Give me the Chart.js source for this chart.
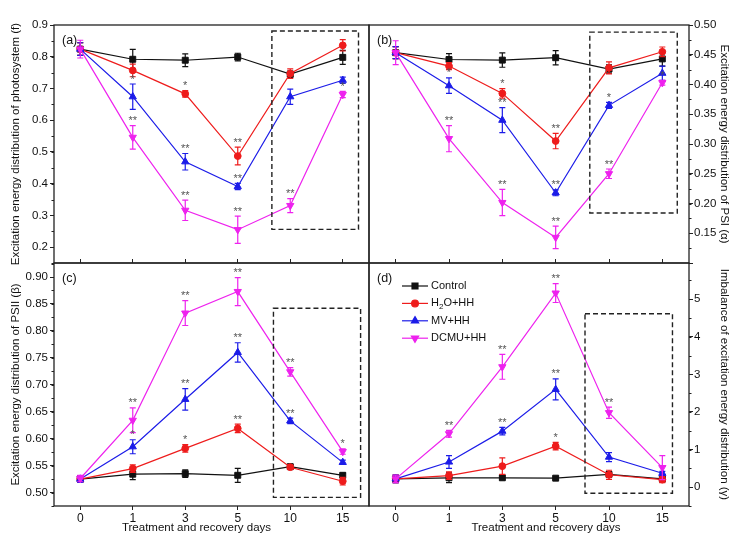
<!DOCTYPE html>
<html>
<head>
<meta charset="utf-8">
<script src="https://cdn.jsdelivr.net/npm/chart.js@4.4.1/dist/chart.umd.min.js"></script>
<style>
html, body { margin: 0; padding: 0; background: #fff; }
#wrap { position: relative; width: 746px; height: 543px; }
#wrap canvas { position: absolute; left: 0; top: 0; }
</style>
</head>
<body>
<div id="wrap">
  <canvas id="pa" width="746" height="543"></canvas>
  <canvas id="pb" width="746" height="543"></canvas>
  <canvas id="pc" width="746" height="543"></canvas>
  <canvas id="pd" width="746" height="543"></canvas>
</div>
<script>
// categories + series
const days = ["0", "1", "3", "5", "10", "15"];
const seriesNames = ["Control", "H2O+HH", "MV+HH", "DCMU+HH"];

// (a) excitation energy distribution of photosystem (f)
const aControl = [0.824, 0.792, 0.789, 0.799, 0.745, 0.798];
const aControlErr = [0.02, 0.031, 0.02, 0.012, 0.01, 0.022];
const aH2O = [0.824, 0.757, 0.683, 0.487, 0.747, 0.836];
const aH2OErr = [0.02, 0.02, 0.01, 0.028, 0.015, 0.018];
const aMV = [0.824, 0.674, 0.469, 0.391, 0.674, 0.726];
const aMVErr = [0.02, 0.04, 0.026, 0.01, 0.024, 0.01];
const aDCMU = [0.824, 0.546, 0.316, 0.255, 0.331, 0.681];
const aDCMUErr = [0.028, 0.037, 0.032, 0.043, 0.022, 0.01];
const aStarsH2O = ["", "", "*", "**", "", ""];
const aStarsMV = ["", "*", "**", "**", "", ""];
const aStarsDCMU = ["", "**", "**", "**", "**", "*"];

// (b) PSI (alpha)
const bControl = [0.4535, 0.442, 0.441, 0.445, 0.426, 0.443];
const bControlErr = [0.01, 0.01, 0.012, 0.012, 0.007, 0.012];
const bH2O = [0.4535, 0.431, 0.385, 0.305, 0.428, 0.455];
const bH2OErr = [0.01, 0.006, 0.008, 0.013, 0.01, 0.008];
const bMV = [0.4535, 0.398, 0.340, 0.218, 0.365, 0.419];
const bMVErr = [0.01, 0.013, 0.021, 0.005, 0.005, 0.012];
const bDCMU = [0.4535, 0.309, 0.2016, 0.143, 0.250, 0.403];
const bDCMUErr = [0.02, 0.022, 0.022, 0.019, 0.008, 0.004];
const bStarsH2O = ["", "", "*", "**", "", ""];
const bStarsMV = ["", "*", "**", "**", "*", ""];
const bStarsDCMU = ["", "**", "**", "**", "**", "*"];

// (c) PSII (beta)
const cControl = [0.525, 0.534, 0.535, 0.532, 0.548, 0.532];
const cControlErr = [0.006, 0.01, 0.007, 0.013, 0.004, 0.004];
const cH2O = [0.525, 0.5445, 0.582, 0.619, 0.547, 0.521];
const cH2OErr = [0.006, 0.007, 0.007, 0.008, 0.004, 0.007];
const cMV = [0.525, 0.585, 0.673, 0.760, 0.633, 0.556];
const cMVErr = [0.006, 0.013, 0.02, 0.018, 0.005, 0.004];
const cDCMU = [0.526, 0.634, 0.833, 0.873, 0.724, 0.576];
const cDCMUErr = [0.006, 0.023, 0.023, 0.026, 0.008, 0.005];
const cStarsH2O = ["", "", "*", "**", "", ""];
const cStarsMV = ["", "*", "**", "**", "**", ""];
const cStarsDCMU = ["", "**", "**", "**", "**", "*"];

// (d) imbalance (gamma)
const dControl = [0.22, 0.25, 0.25, 0.24, 0.34, 0.22];
const dControlErr = [0.1, 0.13, 0.05, 0.03, 0.06, 0.08];
const dH2O = [0.22, 0.31, 0.56, 1.09, 0.33, 0.20];
const dH2OErr = [0.1, 0.1, 0.22, 0.1, 0.12, 0.08];
const dMV = [0.22, 0.67, 1.49, 2.60, 0.80, 0.37];
const dMVErr = [0.1, 0.17, 0.1, 0.28, 0.12, 0.05];
const dDCMU = [0.22, 1.42, 3.20, 5.16, 1.98, 0.52];
const dDCMUErr = [0.1, 0.09, 0.33, 0.25, 0.15, 0.32];
const dStarsH2O = ["", "", "", "*", "", ""];
const dStarsMV = ["", "", "**", "**", "", ""];
const dStarsDCMU = ["", "**", "**", "**", "**", ""];

const noStars = ["", "", "", "", "", ""];

// dashed recovery boxes: [fromIndex, toIndex, yLow, yHigh]
const boxA = [3.65, 5.3, 0.256, 0.881];
const boxB = [3.64, 5.28, 0.184, 0.488];
const boxC = [3.68, 5.34, 0.491, 0.842];
const boxD = [3.55, 5.19, -0.16, 4.61];

const colors = ["#111111", "#ee1c1c", "#1c1ce8", "#ee22ee"];
const markers = ["rect", "circle", "triangle", "triangle"];
const rotations = [0, 0, 0, 180];
const radii = [4.2, 3.4, 4.2, 4.2];
const FONT = "'Liberation Sans', Arial, sans-serif";
const INK = "#222";
const X_TITLE = "Treatment and recovery days";

Chart.defaults.font.family = FONT;
Chart.defaults.color = "#111";

/* plugins */
const errorBars = {
    id: "errorBars",
    afterDatasetDraw(chart, args) {
        let ds = chart.data.datasets[args.index];
        if (!ds.errs) return;
        let y = chart.scales.y, ctx = chart.ctx;
        ctx.save();
        ctx.strokeStyle = ds.borderColor;
        ctx.lineWidth = 1.2;
        args.meta.data.forEach((pt, i) => {
            let v = ds.data[i], e = ds.errs[i];
            let y1 = y.getPixelForValue(v + e), y2 = y.getPixelForValue(v - e);
            ctx.beginPath();
            ctx.moveTo(pt.x, y1); ctx.lineTo(pt.x, y2);
            ctx.moveTo(pt.x - 3, y1); ctx.lineTo(pt.x + 3, y1);
            ctx.moveTo(pt.x - 3, y2); ctx.lineTo(pt.x + 3, y2);
            ctx.stroke();
        });
        ctx.restore();
    },
    afterDatasetsDraw(chart) {
        let y = chart.scales.y, ctx = chart.ctx;
        ctx.save();
        ctx.fillStyle = "#555";
        ctx.font = "11px " + FONT;
        ctx.textAlign = "center";
        ctx.textBaseline = "bottom";
        chart.data.datasets.forEach((ds, k) => {
            let meta = chart.getDatasetMeta(k);
            ds.stars.forEach((s, i) => {
                if (!s) return;
                let yp = y.getPixelForValue(ds.data[i] + ds.errs[i]);
                ctx.fillText(s, meta.data[i].x, yp + 1);
            });
        });
        ctx.restore();
    }
};

const frame = {
    id: "frame",
    afterDraw(chart, args, opts) {
        let a = chart.chartArea, ctx = chart.ctx;
        let x = chart.scales.x, y = chart.scales.y;
        ctx.save();
        // dashed box
        if (opts.box) {
            let b = opts.box;
            let x1 = x.getPixelForValue(b[0]), x2 = x.getPixelForValue(b[1]);
            let y1 = y.getPixelForValue(b[3]), y2 = y.getPixelForValue(b[2]);
            ctx.setLineDash([5, 3]);
            ctx.strokeStyle = "#222";
            ctx.lineWidth = 1.4;
            ctx.strokeRect(x1, y1, x2 - x1, y2 - y1);
            ctx.setLineDash([]);
        }
        // minor ticks
        if (opts.minor) {
            let left = y.position === "left";
            let x0 = left ? a.left : a.right;
            ctx.strokeStyle = INK;
            ctx.lineWidth = 1;
            let n0 = Math.ceil(y.min / opts.minor - 1e-6), n1 = Math.floor(y.max / opts.minor + 1e-6);
            for (let n = n0; n <= n1; n++) {
                let yp = Math.round(y.getPixelForValue(n * opts.minor)) + 0.5;
                ctx.beginPath();
                ctx.moveTo(x0, yp);
                ctx.lineTo(x0 + (left ? -2.5 : 2.5), yp);
                ctx.stroke();
            }
        }
        ctx.strokeStyle = INK;
        ctx.lineWidth = 1.3;
        ctx.strokeRect(a.left, a.top, a.right - a.left, a.bottom - a.top);
        // panel letter
        ctx.fillStyle = "#111";
        ctx.font = "12.5px " + FONT;
        ctx.textBaseline = "middle";
        ctx.fillText(opts.letter, a.left + 8, a.top + 16);
        // x title (shifted off-centre as in the figure)
        if (opts.xShift !== undefined) {
            ctx.font = "11.5px " + FONT;
            ctx.textAlign = "center";
            ctx.fillText(X_TITLE, (a.left + a.right) / 2 + opts.xShift, a.bottom + 22);
        }
        ctx.restore();
    }
};

const legendBox = {
    id: "legendBox",
    afterDraw(chart, args, opts) {
        if (!opts.show) return;
        let a = chart.chartArea, ctx = chart.ctx;
        ctx.save();
        chart.data.datasets.forEach((ds, i) => {
            let yy = a.top + 23 + i * 17.4;
            let x0 = a.left + 33;
            ctx.strokeStyle = ds.borderColor;
            ctx.lineWidth = 1.2;
            ctx.beginPath(); ctx.moveTo(x0, yy); ctx.lineTo(x0 + 26, yy); ctx.stroke();
            ctx.fillStyle = ds.borderColor;
            Chart.helpers.drawPoint(ctx, {
                pointStyle: ds.pointStyle, rotation: ds.pointRotation || 0,
                radius: ds.pointRadius, borderWidth: 1
            }, x0 + 13, yy);
            ctx.fillStyle = "#111";
            ctx.textBaseline = "middle";
            let tx = x0 + 29;
            let name = seriesNames[i];
            if (name.startsWith("H2O")) {
                ctx.font = "11px " + FONT;
                ctx.fillText("H", tx, yy);
                tx += ctx.measureText("H").width;
                ctx.font = "8px " + FONT;
                ctx.fillText("2", tx, yy + 3);
                tx += ctx.measureText("2").width;
                ctx.font = "11px " + FONT;
                ctx.fillText(name.slice(2), tx, yy);
            } else {
                ctx.font = "11px " + FONT;
                ctx.fillText(name, tx, yy);
            }
        });
        ctx.restore();
    }
};

function makePanel(id, p) {
    let datasets = p.values.map((vals, i) => ({
        label: seriesNames[i],
        data: vals,
        errs: p.errs[i],
        stars: p.stars[i],
        borderColor: colors[i],
        backgroundColor: colors[i],
        borderWidth: 1.2,
        pointStyle: markers[i],
        pointRotation: rotations[i],
        pointRadius: radii[i],
        pointBorderWidth: 1,
        tension: 0,
        order: 4 - i,
        clip: false,
        xAxisID: "x",
        yAxisID: "y"
    }));

    let left = p.side === "left";
    let scales = {
        x: {
            type: "category", labels: days, offset: true, position: "bottom",
            display: p.bottom,
            grid: { drawOnChartArea: false, tickLength: 4, color: INK },
            border: { display: false },
            ticks: { color: "#111", font: { size: 12 }, padding: 1, maxRotation: 0, autoSkip: false },
            title: { display: false },
            afterFit: s => { s.height = p.bottom ? 37 : 0; }
        },
        y: {
            position: p.side, min: p.min, max: p.max,
            grid: { drawOnChartArea: false, tickLength: 4, color: INK },
            border: { display: false },
            ticks: {
                stepSize: p.step, includeBounds: false, autoSkip: false,
                color: "#111", font: { size: 11.5 }, padding: left ? 2 : 1,
                callback: v => (v < p.hideBelow ? "" : Number(v).toFixed(p.dec))
            },
            title: { display: true, text: p.title, color: "#111", font: { size: 11.5 },
                     padding: { top: left ? 9 : 15, bottom: 0 } },
            afterFit: s => { s.width = left ? 54 : 57; }
        }
    };
    if (p.bottom) {
        scales.xTop = {
            type: "category", labels: days, offset: true, position: "top",
            grid: { drawOnChartArea: false, tickLength: 4, color: INK },
            border: { display: false },
            ticks: { display: false },
            afterFit: s => { s.height = 4; }
        };
    }

    return new Chart(document.getElementById(id), {
        type: "line",
        data: { labels: days, datasets: datasets },
        options: {
            responsive: false,
            animation: false,
            devicePixelRatio: 1,
            layout: { padding: p.pad },
            scales: scales,
            plugins: {
                legend: { display: false },
                tooltip: { enabled: false },
                frame: { letter: p.letter, box: p.box, minor: p.step / 2, xShift: p.xShift },
                legendBox: { show: !!p.legend }
            }
        },
        plugins: [errorBars, frame, legendBox]
    });
}

makePanel("pa", {
    letter: "(a)", side: "left", bottom: false,
    min: 0.15, max: 0.9, step: 0.1, dec: 1, hideBelow: -1,
    title: "Excitation energy distribution of photosystem (f)",
    values: [aControl, aH2O, aMV, aDCMU],
    errs: [aControlErr, aH2OErr, aMVErr, aDCMUErr],
    stars: [noStars, aStarsH2O, aStarsMV, aStarsDCMU],
    box: boxA,
    pad: { left: 0, right: 377, top: 25, bottom: 280 }
});

makePanel("pb", {
    letter: "(b)", side: "right", bottom: false,
    min: 0.10, max: 0.50, step: 0.05, dec: 2, hideBelow: 0.12,
    title: "Excitation energy distribution of PSI (α)",
    values: [bControl, bH2O, bMV, bDCMU],
    errs: [bControlErr, bH2OErr, bMVErr, bDCMUErr],
    stars: [noStars, bStarsH2O, bStarsMV, bStarsDCMU],
    box: boxB,
    pad: { left: 369, right: 0, top: 25, bottom: 280 }
});

makePanel("pc", {
    letter: "(c)", side: "left", bottom: true, xShift: -15,
    min: 0.475, max: 0.926, step: 0.05, dec: 2, hideBelow: -1,
    title: "Excitation energy distribution of PSII (β)",
    values: [cControl, cH2O, cMV, cDCMU],
    errs: [cControlErr, cH2OErr, cMVErr, cDCMUErr],
    stars: [noStars, cStarsH2O, cStarsMV, cStarsDCMU],
    box: boxC,
    pad: { left: 0, right: 377, top: 259, bottom: 0 }
});

makePanel("pd", {
    letter: "(d)", side: "right", bottom: true, legend: true, xShift: 17,
    min: -0.5, max: 5.96, step: 1, dec: 0, hideBelow: -1,
    title: "Imbalance of excitation energy distribution (γ)",
    values: [dControl, dH2O, dMV, dDCMU],
    errs: [dControlErr, dH2OErr, dMVErr, dDCMUErr],
    stars: [noStars, dStarsH2O, dStarsMV, dStarsDCMU],
    box: boxD,
    pad: { left: 369, right: 0, top: 259, bottom: 0 }
});
</script>
</body>
</html>
